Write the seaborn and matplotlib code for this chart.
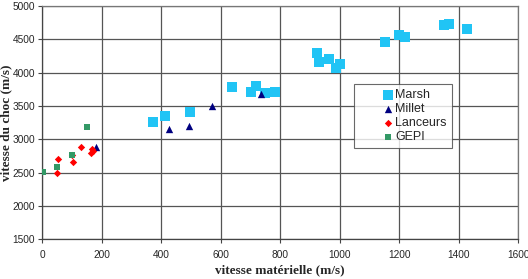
import pandas as pd
import seaborn as sns
import matplotlib.pyplot as plt

# Values
marsh_x = [374, 413, 497, 640, 701, 720, 748, 782, 925, 929, 965, 988, 1000, 1153, 1198, 1218, 1349, 1366, 1427]
marsh_y = [3258, 3352, 3408, 3788, 3703, 3798, 3689, 3703, 4299, 4154, 4199, 4073, 4125, 4455, 4564, 4530, 4715, 4725, 4659]

millet_x = [181, 427, 495, 571, 735]
millet_y = [2877, 3152, 3193, 3498, 3673]

lanceurs_x = [51, 54, 100, 103, 130, 165, 169, 170]
lanceurs_y = [2496, 2697, 2770, 2661, 2887, 2787, 2847, 2820]

gepi_x = [2, 51, 101, 150]
gepi_y = [2502, 2577, 2757, 3180]

sns.set_style("white")
plt.rcParams['font.family'] = ['Liberation Sans', 'DejaVu Sans']

fig = plt.figure(figsize=(5.28, 2.79), dpi=100)
ax = fig.add_axes([0.0795, 0.143, 0.902, 0.835])

series = [
    ("Marsh", marsh_x, marsh_y, "s", "#21C4F5", 42),
    ("Millet", millet_x, millet_y, "^", "#000080", 28),
    ("Lanceurs", lanceurs_x, lanceurs_y, "D", "#FF0000", 14),
    ("GEPI", gepi_x, gepi_y, "s", "#339966", 20),
]
for name, xs, ys, mk, col, sz in series:
    df = pd.DataFrame({"x": xs, "y": ys})
    sns.scatterplot(data=df, x="x", y="y", marker=mk, color=col, s=sz,
                    linewidth=0, label=name, ax=ax, zorder=3)

ax.set_xlim(0, 1600)
ax.set_ylim(1500, 5000)
ax.set_xticks(range(0, 1601, 200))
ax.set_yticks(range(1500, 5001, 500))
ax.grid(True, color="#555555", linewidth=0.9)
ax.set_axisbelow(True)
for s in ax.spines.values():
    s.set_color("#777777")
    s.set_linewidth(0.9)
ax.spines["left"].set_color("#444444")
ax.spines["bottom"].set_color("#444444")
ax.tick_params(axis="both", direction="out", length=3, width=0.8, color="#444444",
               labelsize=7.3, pad=2, bottom=True, left=True)
ax.tick_params(axis="x", pad=5)

ax.set_xlabel("vitesse matérielle (m/s)", family=["Liberation Serif", "DejaVu Serif"],
              fontweight="bold", fontsize=9.5, labelpad=3)
ax.set_ylabel("vitesse du choc (m/s)", family=["Liberation Serif", "DejaVu Serif"],
              fontweight="bold", fontsize=9.5, labelpad=1)
ax.yaxis.set_label_coords(-0.062, 0.5)

leg = ax.legend(loc="upper left", bbox_to_anchor=(0.655, 0.665), fontsize=9,
                frameon=True, fancybox=False, borderpad=0.4, handletextpad=-1.7,
                labelspacing=0.15, handlelength=4.6, borderaxespad=0)
leg.get_frame().set_edgecolor("#444444")
leg.get_frame().set_linewidth(0.8)

fig.savefig("out.png", dpi=100)
